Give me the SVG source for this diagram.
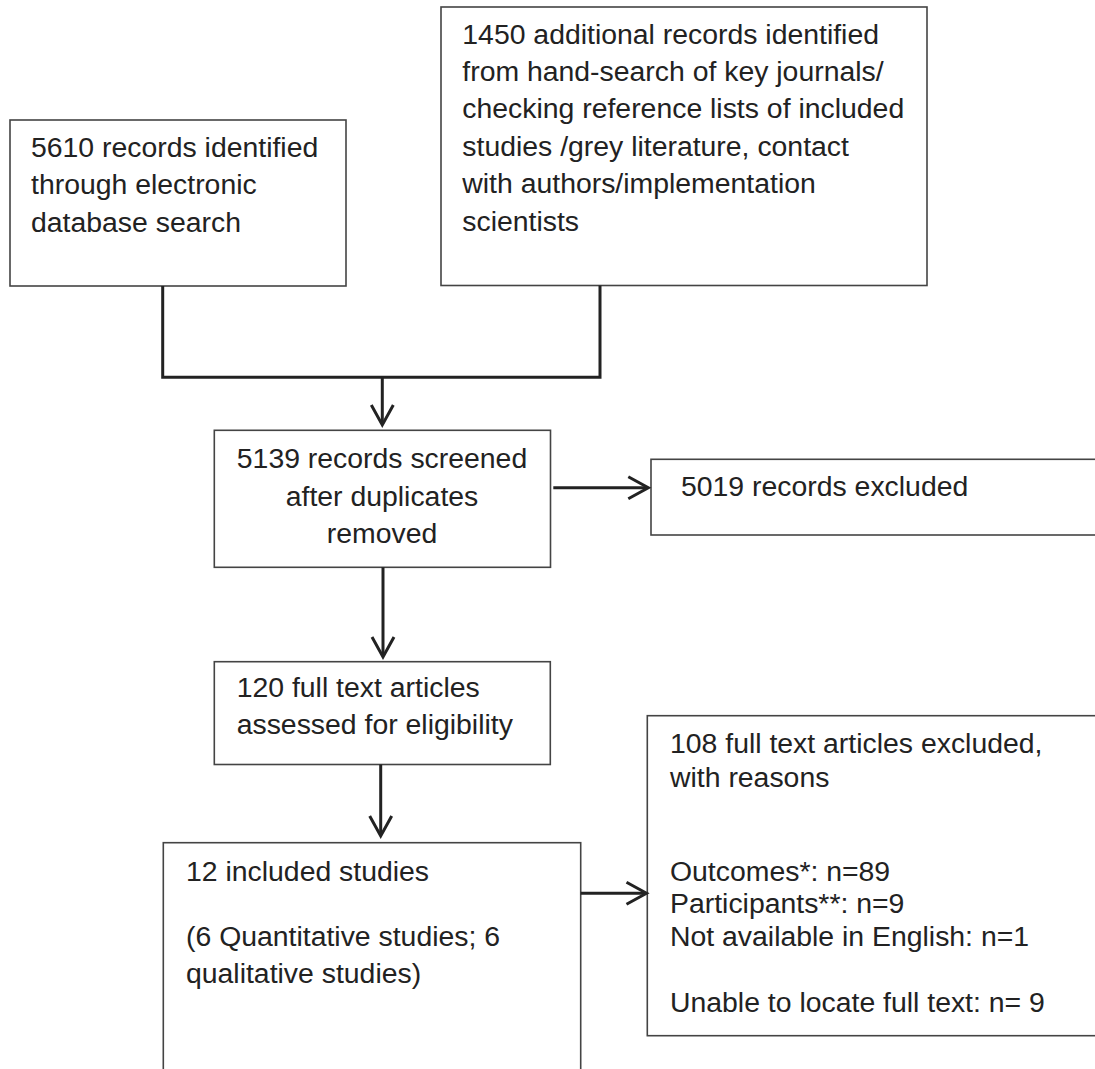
<svg xmlns="http://www.w3.org/2000/svg" width="1095" height="1069" viewBox="0 0 1095 1069">
  <style>
    .box { fill: #ffffff; stroke: #444444; stroke-width: 1.6; }
    .t { font-family: "Liberation Sans", Arial, sans-serif; font-size: 28.4px; fill: #222222; }
    .c { text-anchor: middle; }
    .conn { fill: none; stroke: #222222; stroke-width: 3; }
    .head { fill: none; stroke: #222222; stroke-width: 3; stroke-linecap: butt; stroke-linejoin: miter; }
  </style>
  <rect width="1095" height="1069" fill="#ffffff"/>

  <g id="node-database">
    <rect class="box" x="10" y="120" width="336" height="166"/>
    <text class="t" x="31" y="156.5">5610 records identified</text>
    <text class="t" x="31" y="194.3">through electronic</text>
    <text class="t" x="31" y="232">database search</text>
  </g>

  <g id="node-additional">
    <rect class="box" x="441" y="7" width="486" height="278.5"/>
    <text class="t" x="462.3" y="43.5">1450 additional records identified</text>
    <text class="t" x="462.3" y="81">from hand-search of key journals/</text>
    <text class="t" x="462.3" y="118.4">checking reference lists of included</text>
    <text class="t" x="462.3" y="155.8">studies /grey literature, contact</text>
    <text class="t" x="462.3" y="193.2">with authors/implementation</text>
    <text class="t" x="462.3" y="230.6">scientists</text>
  </g>

  <g id="node-screened">
    <rect class="box" x="214.3" y="430.3" width="336.2" height="137"/>
    <text class="t c" x="382" y="468.3">5139 records screened</text>
    <text class="t c" x="382" y="506">after duplicates</text>
    <text class="t c" x="382" y="543.3">removed</text>
  </g>

  <g id="node-excluded">
    <rect class="box" x="651" y="459.3" width="460" height="75.7"/>
    <text class="t" x="681" y="496">5019 records excluded</text>
  </g>

  <g id="node-fulltext">
    <rect class="box" x="214.3" y="661.7" width="336" height="102.8"/>
    <text class="t" x="236.7" y="696.7">120 full text articles</text>
    <text class="t" x="236.7" y="734">assessed for eligibility</text>
  </g>

  <g id="node-included">
    <rect class="box" x="163.3" y="842.7" width="417.4" height="240"/>
    <text class="t" x="186" y="880.7">12 included studies</text>
    <text class="t" x="186" y="946">(6 Quantitative studies; 6</text>
    <text class="t" x="186" y="982.7">qualitative studies)</text>
  </g>

  <g id="node-fulltext-excluded">
    <rect class="box" x="647.3" y="715.7" width="460" height="320"/>
    <text class="t" x="670" y="753">108 full text articles excluded,</text>
    <text class="t" x="670" y="787">with reasons</text>
    <text class="t" x="670" y="880.5">Outcomes*: n=89</text>
    <text class="t" x="670" y="913.3">Participants**: n=9</text>
    <text class="t" x="670" y="946.3">Not available in English: n=1</text>
    <text class="t" x="670" y="1011.7">Unable to locate full text: n= 9</text>
  </g>

  <g id="connectors">
    <polyline class="conn" points="162.7,286 162.7,377.3 600,377.3 600,285.5"/>
    <line class="conn" x1="382.3" y1="377.3" x2="382.3" y2="424"/>
    <polyline class="head" points="371.3,405 382.3,425 393.3,405"/>

    <line class="conn" x1="383" y1="567.3" x2="383" y2="655.5"/>
    <polyline class="head" points="372,637 383,657 394,637"/>

    <line class="conn" x1="380.7" y1="764.5" x2="380.7" y2="835"/>
    <polyline class="head" points="369.7,816 380.7,836 391.7,816"/>

    <line class="conn" x1="553.3" y1="487.7" x2="647" y2="487.7"/>
    <polyline class="head" points="628.3,476.7 648.3,487.7 628.3,498.7"/>

    <line class="conn" x1="580.7" y1="893.3" x2="645.5" y2="893.3"/>
    <polyline class="head" points="626.5,882.3 646.5,893.3 626.5,904.3"/>
  </g>
</svg>
